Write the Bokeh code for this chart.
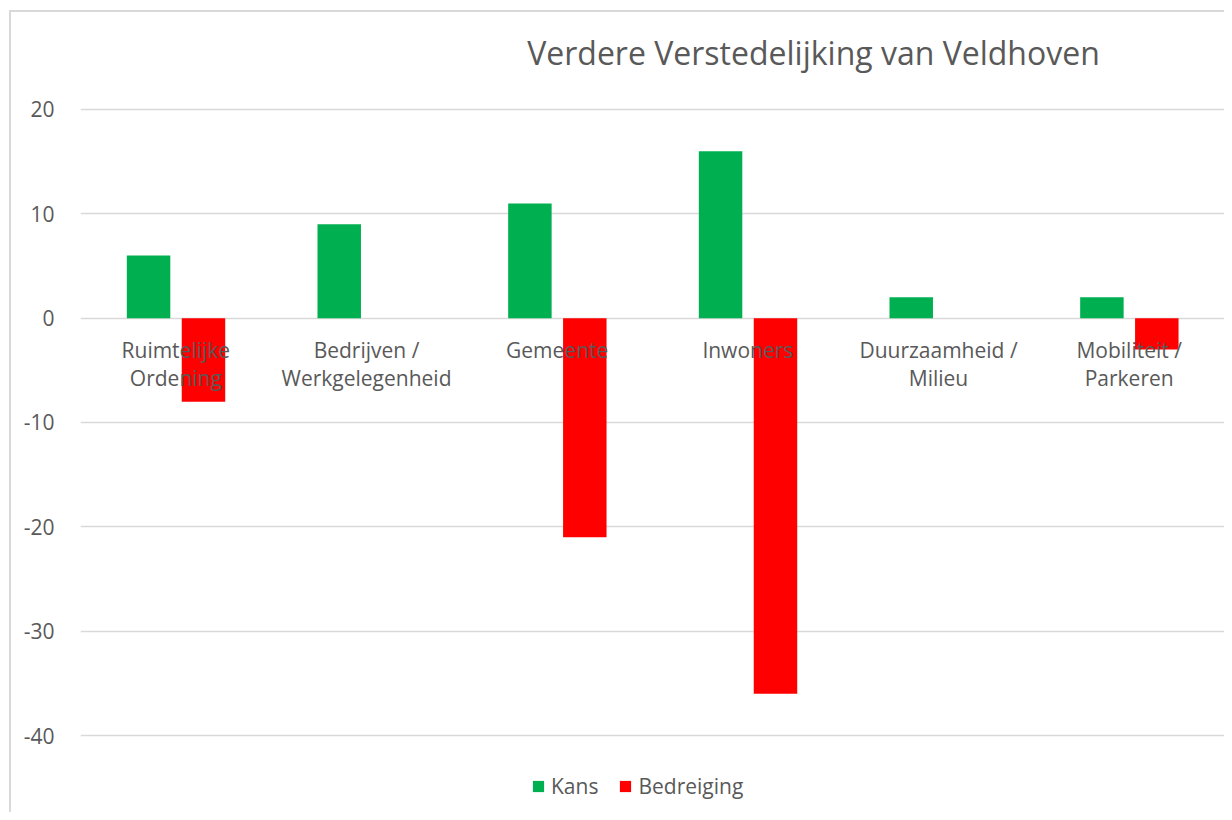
from bokeh.plotting import figure
from bokeh.models import (FixedTicker, Legend, LegendItem, Label, PrintfTickFormatter,
                          ColumnDataSource, Range1d, FactorRange)
from bokeh.transform import dodge
from bokeh.core.properties import value
from bokeh.embed import file_html
from bokeh.resources import INLINE

# ---- data ----
categories = ["Ruimtelijke\nOrdening", "Bedrijven /\nWerkgelegenheid", "Gemeente",
              "Inwoners", "Duurzaamheid /\nMilieu", "Mobiliteit /\nParkeren"]
kans = [6, 9, 11, 16, 2, 2]
bedreiging = [-8, 0, -21, -36, 0, -3]
y_ticks = [-40, -30, -20, -10, 0, 10, 20]
title_text = "Verdere Verstedelijking van Veldhoven"
series_names = ["Kans", "Bedreiging"]

GREEN = "#00B050"
RED = "#FF0000"
TEXT = "#595959"
GRID = "#D9D9D9"
FONT = "Open Sans"

src = ColumnDataSource(dict(cat=categories, kans=kans, bedreiging=bedreiging,
                            zero=[0] * len(categories)))

# frame spans nearly the full height; value axis -40..20 occupies the middle part
p = figure(width=1224, height=812, output_backend="svg", toolbar_location=None,
           x_range=FactorRange(*categories, range_padding=0),
           y_range=Range1d(-47.38, 29.201),
           x_axis_location=None, title=None,
           min_border_left=80, min_border_right=0, min_border_top=13, min_border_bottom=0)
p.outline_line_color = None
p.background_fill_color = "white"
p.border_fill_alpha = 0
p.styles = {"background-color": "white",
            "box-shadow": "inset 9px 10px 0 white, inset 11px 12px 0 #D9D9D9"}

# y axis
ax = p.yaxis[0]
ax.ticker = FixedTicker(ticks=y_ticks)
ax.formatter = PrintfTickFormatter(format="%d")
ax.axis_line_color = None
ax.major_tick_line_color = None
ax.minor_tick_line_color = None
ax.major_label_text_font = FONT
ax.major_label_text_font_size = "21px"
ax.major_label_text_color = TEXT
ax.major_label_standoff = 20

p.xgrid.grid_line_color = None
p.ygrid.grid_line_color = GRID
p.ygrid.grid_line_width = 1.5
p.ygrid.ticker = FixedTicker(ticks=y_ticks)

r1 = p.vbar(x=dodge("cat", -0.143, range=p.x_range), top="kans", bottom="zero",
            width=0.228, source=src, fill_color=GREEN, line_color=None)
r2 = p.vbar(x=dodge("cat", 0.145, range=p.x_range), top="zero", bottom="bedreiging",
            width=0.228, source=src, fill_color=RED, line_color=None)

# category labels at the zero line (Excel style)
p.text(x="cat", y="zero", text="cat", source=src, text_align="center",
       text_baseline="top", y_offset=18, text_font=value(FONT),
       text_font_size="21px", text_color=TEXT, text_line_height=1.0)

# title
p.add_layout(Label(x=733, y=760, x_units="screen", y_units="screen", text=title_text,
                   text_align="center", text_baseline="alphabetic", text_font=FONT,
                   text_font_size="32px", text_color=TEXT))

legend = Legend(items=[LegendItem(label=series_names[0], renderers=[r1]),
                       LegendItem(label=series_names[1], renderers=[r2])],
                orientation="horizontal", location=(451, 12),
                padding=0, margin=0, spacing=20, label_standoff=6,
                glyph_width=14, glyph_height=14, label_height=14,
                label_text_font=FONT, label_text_font_size="21px",
                label_text_color=TEXT, border_line_color=None,
                background_fill_alpha=0)
p.add_layout(legend, "center")

open("out.html", "w").write(file_html(p, INLINE))
